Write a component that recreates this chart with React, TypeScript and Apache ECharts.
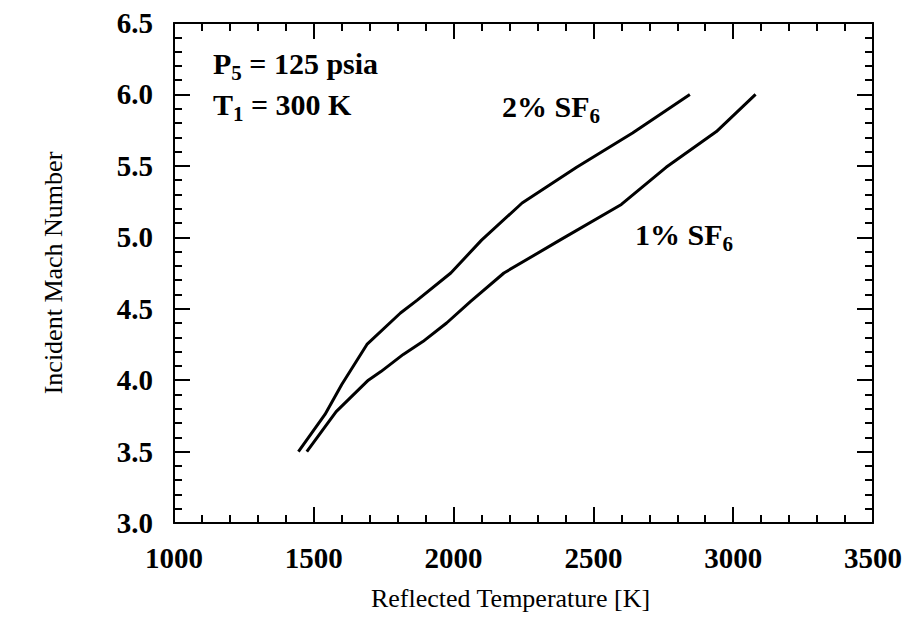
import React, { useEffect, useRef } from "react";
import * as echarts from "echarts";

const FONT = '"Liberation Serif", "Times New Roman", serif';

// 2% SF6 curve: [Reflected Temperature K, Incident Mach Number]
const sf6Two: [number, number][] = [
  [1445, 3.5], [1540, 3.76], [1600, 3.97], [1690, 4.25], [1810, 4.47],
  [1870, 4.56], [1990, 4.75], [2100, 4.98], [2245, 5.24], [2440, 5.49],
  [2640, 5.73], [2845, 6.0],
];

// 1% SF6 curve
const sf6One: [number, number][] = [
  [1475, 3.5], [1580, 3.78], [1695, 4.0], [1740, 4.06], [1820, 4.18],
  [1890, 4.27], [1975, 4.4], [2060, 4.55], [2180, 4.75], [2380, 4.98],
  [2600, 5.23], [2760, 5.49], [2940, 5.74], [3080, 6.0],
];

const xMin = 1000, xMax = 3500, xStep = 500;
const yMin = 3.0, yMax = 6.5, yStep = 0.5;

const xName = "Reflected Temperature [K]";
const yName = "Incident Mach Number";

export default function App() {
  const ref = useRef<HTMLDivElement>(null);
  useEffect(() => {
    if (!ref.current) return;
    const chart = echarts.init(ref.current, null, { renderer: "svg" });
    const line = () => ({ color: "#000", width: 2, type: "solid" });
    const baseX = (pos: "bottom" | "top", show: boolean) => ({
      type: "value",
      position: pos,
      min: xMin, max: xMax, interval: xStep,
      axisLine: { show: true, onZero: false, lineStyle: line() },
      axisTick: { show: true, inside: true, length: 16, lineStyle: line() },
      minorTick: { show: true, splitNumber: 5, length: 8, lineStyle: line() },
      splitLine: { show: false },
      axisLabel: {
        show, color: "#000", fontSize: 29, fontWeight: "bold", fontFamily: FONT, margin: 20,
        formatter: (v: number) => String(v),
      },
      name: show ? xName : "",
      nameLocation: "middle",
      nameGap: 62,
      nameTextStyle: { color: "#000", fontSize: 26, fontFamily: FONT, padding: [0, 26, 0, 0] },
    });
    const baseY = (pos: "left" | "right", show: boolean) => ({
      type: "value",
      position: pos,
      min: yMin, max: yMax, interval: yStep,
      axisLine: { show: true, onZero: false, lineStyle: line() },
      axisTick: { show: true, inside: true, length: 16, lineStyle: line() },
      minorTick: { show: true, splitNumber: 5, length: 8, lineStyle: line() },
      splitLine: { show: false },
      axisLabel: {
        show, color: "#000", fontSize: 29, fontWeight: "bold", fontFamily: FONT, margin: 21,
        formatter: (v: number) => v.toFixed(1),
      },
      name: show ? yName : "",
      nameLocation: "middle",
      nameGap: 108,
      nameRotate: 90,
      nameTextStyle: { color: "#000", fontSize: 26, fontFamily: FONT },
    });
    const rich = {
      m: { fontSize: 30, fontWeight: "bold", fontFamily: FONT, lineHeight: 40, fill: "#000" },
      s: { fontSize: 21, fontWeight: "bold", fontFamily: FONT, lineHeight: 16, verticalAlign: "bottom", fill: "#000" },
    };
    const label = (x: number, y: number, text: string) => ({
      type: "text", x, y,
      style: { text, rich, verticalAlign: "top", align: "left", fill: "#000" },
    });
    chart.setOption({
      animation: false,
      backgroundColor: "#fff",
      grid: { left: 174, right: 34, top: 23, bottom: 101 },
      xAxis: [baseX("bottom", true), baseX("top", false)],
      yAxis: [baseY("left", true), baseY("right", false)],
      series: [
        {
          name: "2% SF6", type: "line", data: sf6Two, xAxisIndex: 0, yAxisIndex: 0,
          showSymbol: false, lineStyle: { color: "#000", width: 3 },
        },
        {
          name: "1% SF6", type: "line", data: sf6One, xAxisIndex: 0, yAxisIndex: 0,
          showSymbol: false, lineStyle: { color: "#000", width: 3 },
        },
      ],
      graphic: [
        label(213, 43, "{m|P}{s|5}{m| = 125 psia}"),
        label(213, 84, "{m|T}{s|1}{m| = 300 K}"),
        label(502, 86, "{m|2% SF}{s|6}"),
        label(635, 214, "{m|1% SF}{s|6}"),
      ],
    });
    return () => chart.dispose();
  }, []);
  return <div ref={ref} style={{ width: 907, height: 624, position: "absolute", left: 0, top: 0 }} />;
}
